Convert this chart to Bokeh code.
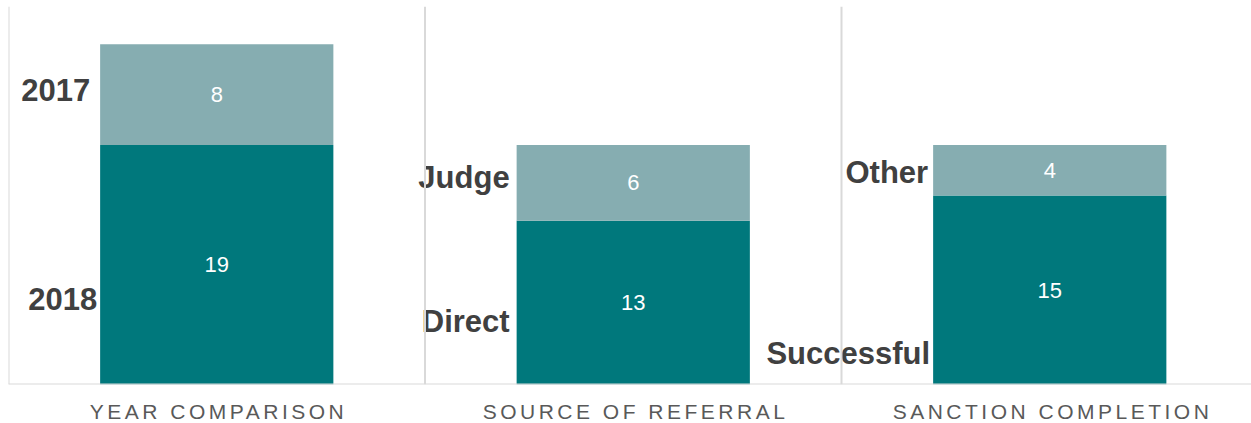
from bokeh.plotting import figure
from bokeh.models import Range1d, Span, ColumnDataSource, Div
from bokeh.layouts import column
from bokeh.core.properties import value
from bokeh.embed import file_html
from bokeh.resources import INLINE

# ---- data ----
categories = ["YEAR COMPARISON", "SOURCE OF REFERRAL", "SANCTION COMPLETION"]
bottom_names = ["2018", "Direct", "Successful"]
top_names = ["2017", "Judge", "Other"]
bottom_values = [19, 13, 15]
top_values = [8, 6, 4]

# ---- layout helpers (positions, not data) ----
bar_width = 0.56
label_y_bottom = [6.75, 5.0, 2.46]
label_y_top = [23.4, 16.4, 16.8]
label_dx_bottom = [-3, -7, -3]
label_dx_top = [-10, -7, -5]

DARK = "#00787C"
LIGHT = "#86ADB1"
GRID = "#D9D9D9"
LABEL = "#404040"

xs = [i + 0.5 for i in range(len(categories))]

p = figure(width=1251, height=386, output_backend="svg", toolbar_location=None,
           x_range=Range1d(0, 1243 / 416.5), y_range=Range1d(0, 30),
           min_border_left=8, min_border_right=0, min_border_top=6, min_border_bottom=2)
p.xaxis.visible = False
p.yaxis.visible = False
p.xgrid.visible = False
p.ygrid.visible = False
p.outline_line_color = None
p.background_fill_color = "white"
p.border_fill_color = "white"

# category separators
for i in range(len(categories)):
    p.add_layout(Span(location=i, dimension="height", line_color=GRID, line_width=2))
p.add_layout(Span(location=0, dimension="width", line_color=GRID, line_width=2))

src = ColumnDataSource(dict(
    x=xs,
    btop=bottom_values,
    ttop=[b + t for b, t in zip(bottom_values, top_values)],
    bmid=[b / 2 for b in bottom_values],
    tmid=[b + t / 2 for b, t in zip(bottom_values, top_values)],
    blab=[str(v) for v in bottom_values],
    tlab=[str(v) for v in top_values],
))

p.vbar(x="x", bottom=0, top="btop", width=bar_width, fill_color=DARK, line_color=None, source=src)
p.vbar(x="x", bottom="btop", top="ttop", width=bar_width, fill_color=LIGHT, line_color=None, source=src)

p.text(x="x", y="bmid", text="blab", source=src, text_color="white", text_align="center",
       text_baseline="middle", text_font=value("Liberation Sans"), text_font_size="22px")
p.text(x="x", y="tmid", text="tlab", source=src, text_color="white", text_align="center",
       text_baseline="middle", text_font=value("Liberation Sans"), text_font_size="22px")

name_src = ColumnDataSource(dict(
    x=[x - bar_width / 2 for x in xs] * 2,
    y=label_y_bottom + label_y_top,
    dx=label_dx_bottom + label_dx_top,
    text=bottom_names + top_names,
))
p.text(x="x", y="y", text="text", x_offset="dx", source=name_src, text_color=LABEL,
       text_align="right", text_baseline="middle", text_font=value("Liberation Sans"),
       text_font_size="31px", text_font_style="bold")

spans = "".join(
    f'<div style="display:inline-block;width:417px;text-align:center;padding-left:4px;box-sizing:border-box;">{c}</div>'
    for c in categories)
div = Div(text=f'<div style="white-space:nowrap;overflow:hidden;width:1251px;padding-left:3px;box-sizing:border-box;'
               f'font-family:\'Liberation Sans\',Arial,sans-serif;font-size:21px;letter-spacing:3.5px;color:#595959;'
               f'line-height:21px;padding-top:10px;">{spans}</div>',
          width=1251, height=37)

layout = column(p, div, spacing=0)
open("out.html", "w").write(file_html(layout, INLINE))
